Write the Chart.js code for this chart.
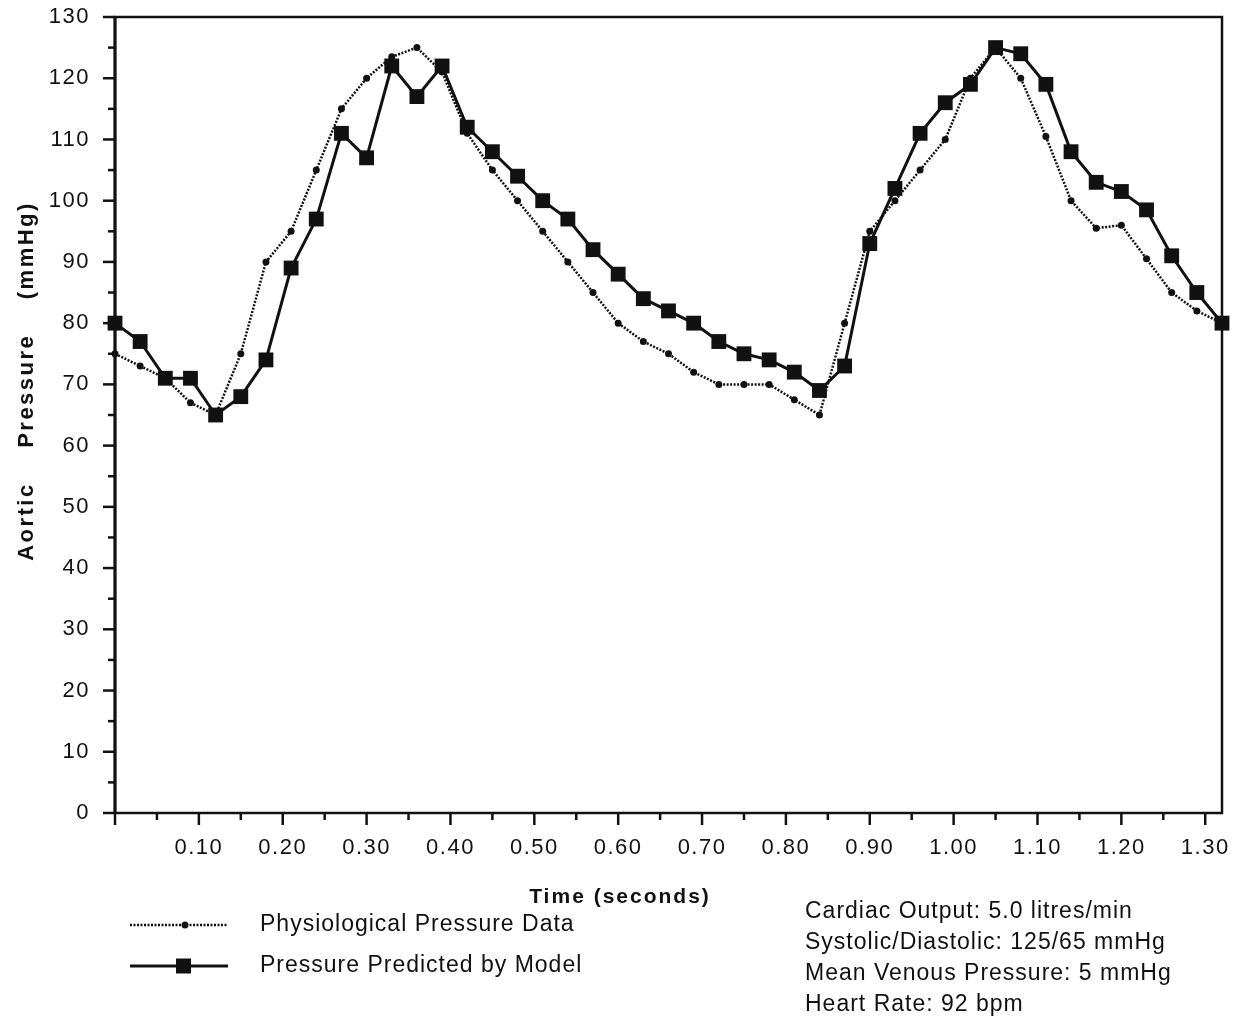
<!DOCTYPE html>
<html>
<head>
<meta charset="utf-8">
<title>Aortic Pressure</title>
<script src="https://cdn.jsdelivr.net/npm/chart.js@4.4.1/dist/chart.umd.min.js"></script>
<style>
  html, body { margin: 0; padding: 0; background: #fff; }
  #wrap { width: 1246px; height: 1021px; }
</style>
</head>
<body>
<div id="wrap"><canvas id="pressureChart" width="1246" height="1021"></canvas></div>
<script>
// sample times in seconds, shared by both series
const timeSec = [0.00, 0.03, 0.06, 0.09, 0.12, 0.15, 0.18, 0.21, 0.24, 0.27,
                 0.30, 0.33, 0.36, 0.39, 0.42, 0.45, 0.48, 0.51, 0.54, 0.57,
                 0.60, 0.63, 0.66, 0.69, 0.72, 0.75, 0.78, 0.81, 0.84, 0.87,
                 0.90, 0.93, 0.96, 0.99, 1.02, 1.05, 1.08, 1.11, 1.14, 1.17,
                 1.20, 1.23, 1.26, 1.29, 1.32];

// aortic pressure, mmHg
const physiological = [75, 73, 71, 67, 65, 75, 90, 95, 105, 115,
                       120, 123.5, 125, 121, 111, 105, 100, 95, 90, 85,
                       80, 77, 75, 72, 70, 70, 70, 67.5, 65, 80,
                       95, 100, 105, 110, 120, 125, 120, 110.5, 100, 95.5,
                       96, 90.5, 85, 82, 80];
const modelPredicted = [80, 77, 71, 71, 65, 68, 74, 89, 97, 111,
                        107, 122, 117, 122, 112, 108, 104, 100, 97, 92,
                        88, 84, 82, 80, 77, 75, 74, 72, 69, 73,
                        93, 102, 111, 116, 119, 125, 124, 119, 108, 103,
                        101.5, 98.5, 91, 85, 80];

// axis ticks
const xMajorTicks = [0.10, 0.20, 0.30, 0.40, 0.50, 0.60, 0.70, 0.80, 0.90, 1.00, 1.10, 1.20, 1.30];
const xMinorTicks = [0.00, 0.05, 0.15, 0.25, 0.35, 0.45, 0.55, 0.65, 0.75, 0.85, 0.95, 1.05, 1.15, 1.25];
const yTickStep = 5;

const legendLabels = ['Physiological Pressure Data', 'Pressure Predicted by Model'];
const notes = ['Cardiac Output: 5.0 litres/min',
               'Systolic/Diastolic: 125/65 mmHg',
               'Mean Venous Pressure: 5 mmHg',
               'Heart Rate: 92 bpm'];

const ink = '#111';
const FONT = '"Liberation Sans", Arial, Helvetica, sans-serif';

const toPoints = vals => vals.map((v, i) => ({ x: timeSec[i], y: v }));

function isMajorX(v) {
  return xMajorTicks.some(t => Math.abs(t - v) < 1e-6);
}

// frame, tick marks, axis titles, legend and notes
const decorations = {
  id: 'decorations',
  beforeDraw(chart) {
    const ctx = chart.ctx;
    ctx.save();
    ctx.fillStyle = '#fff';
    ctx.fillRect(0, 0, chart.width, chart.height);
    ctx.restore();
    ctx.letterSpacing = '1.5px';
  },
  afterDraw(chart) {
    const ctx = chart.ctx;
    const { left, right, top, bottom } = chart.chartArea;
    const xs = chart.scales.x, ys = chart.scales.y;
    ctx.save();
    ctx.strokeStyle = ink;
    ctx.fillStyle = ink;

    // box
    ctx.lineWidth = 2.5;
    ctx.strokeRect(left, top, right - left, bottom - top);
    ctx.lineWidth = 3;
    ctx.beginPath();
    ctx.moveTo(left, top);
    ctx.lineTo(left, bottom + 1);
    ctx.stroke();

    // y tick marks
    ctx.lineWidth = 2.5;
    ys.ticks.forEach(t => {
      const y = ys.getPixelForValue(t.value);
      const len = t.value % 10 === 0 ? 12 : 7;
      ctx.beginPath();
      ctx.moveTo(left - len, y);
      ctx.lineTo(left, y);
      ctx.stroke();
    });
    // x tick marks
    xs.ticks.forEach(t => {
      const x = xs.getPixelForValue(t.value);
      const len = (isMajorX(t.value) || t.value === 0) ? 12 : 7;
      ctx.beginPath();
      ctx.moveTo(x, bottom);
      ctx.lineTo(x, bottom + len);
      ctx.stroke();
    });

    ctx.textBaseline = 'middle';

    // axis titles
    ctx.letterSpacing = '2px';
    ctx.font = 'bold 21px ' + FONT;
    ctx.textAlign = 'center';
    ctx.fillText('Time (seconds)', 620, 897);
    ctx.save();
    ctx.translate(27, 381);
    ctx.rotate(-Math.PI / 2);
    ctx.letterSpacing = '2.5px';
    ctx.font = 'bold 22px ' + FONT;
    ctx.fillText('Aortic    Pressure    (mmHg)', 0, 0);
    ctx.restore();

    // legend
    const rows = [925, 966];
    ctx.lineWidth = 2.5;
    ctx.setLineDash([2, 1.5]);
    ctx.beginPath();
    ctx.moveTo(130, rows[0]);
    ctx.lineTo(228, rows[0]);
    ctx.stroke();
    ctx.setLineDash([]);
    ctx.beginPath();
    ctx.arc(185, rows[0], 3.5, 0, Math.PI * 2);
    ctx.fill();

    ctx.lineWidth = 3;
    ctx.beginPath();
    ctx.moveTo(130, rows[1]);
    ctx.lineTo(228, rows[1]);
    ctx.stroke();
    ctx.fillRect(176, rows[1] - 7.5, 15, 15);

    ctx.letterSpacing = '1px';
    ctx.font = '23px ' + FONT;
    ctx.textAlign = 'left';
    legendLabels.forEach((txt, i) => ctx.fillText(txt, 260, rows[i]));

    // run parameters
    notes.forEach((txt, i) => ctx.fillText(txt, 805, 912 + i * 30.8));

    ctx.restore();
  }
};

new Chart(document.getElementById('pressureChart').getContext('2d'), {
  type: 'line',
  data: {
    datasets: [{
      label: legendLabels[1],
      data: toPoints(modelPredicted),
      borderColor: ink,
      backgroundColor: ink,
      borderWidth: 3,
      pointStyle: 'rect',
      pointRadius: 10.5,
      pointBorderWidth: 0,
      clip: false,
      order: 0
    }, {
      label: legendLabels[0],
      data: toPoints(physiological),
      borderColor: ink,
      backgroundColor: ink,
      borderWidth: 2.5,
      borderDash: [2, 1.5],
      pointStyle: 'circle',
      pointRadius: 3.5,
      pointBorderWidth: 0,
      clip: false,
      order: 1
    }]
  },
  options: {
    responsive: false,
    devicePixelRatio: 1,
    animation: false,
    events: [],
    layout: { padding: { left: 0, top: 17, right: 24, bottom: 0 } },
    plugins: { legend: { display: false }, tooltip: { enabled: false } },
    elements: { line: { tension: 0 } },
    scales: {
      x: {
        type: 'linear',
        min: 0,
        max: 1.32,
        grid: { display: false, drawTicks: true, tickLength: 12 },
        border: { display: false },
        afterFit: s => { s.height = 208; s.paddingLeft = 0; s.paddingRight = 0; },
        afterBuildTicks: s => {
          s.ticks = xMinorTicks.concat(xMajorTicks).sort((a, b) => a - b).map(v => ({ value: v }));
        },
        ticks: {
          autoSkip: false,
          maxRotation: 0,
          padding: 10,
          color: ink,
          font: { family: FONT, size: 22 },
          callback: v => isMajorX(v) ? v.toFixed(2) : ''
        }
      },
      y: {
        min: 0,
        max: 130,
        grid: { display: false, drawTicks: true, tickLength: 12 },
        border: { display: false },
        afterFit: s => { s.width = 115; s.paddingTop = 0; s.paddingBottom = 0; },
        ticks: {
          stepSize: yTickStep,
          autoSkip: false,
          padding: 13,
          color: ink,
          font: { family: FONT, size: 22 },
          callback: v => v % 10 === 0 ? String(v) : ''
        }
      }
    }
  },
  plugins: [decorations]
});
</script>
</body>
</html>
